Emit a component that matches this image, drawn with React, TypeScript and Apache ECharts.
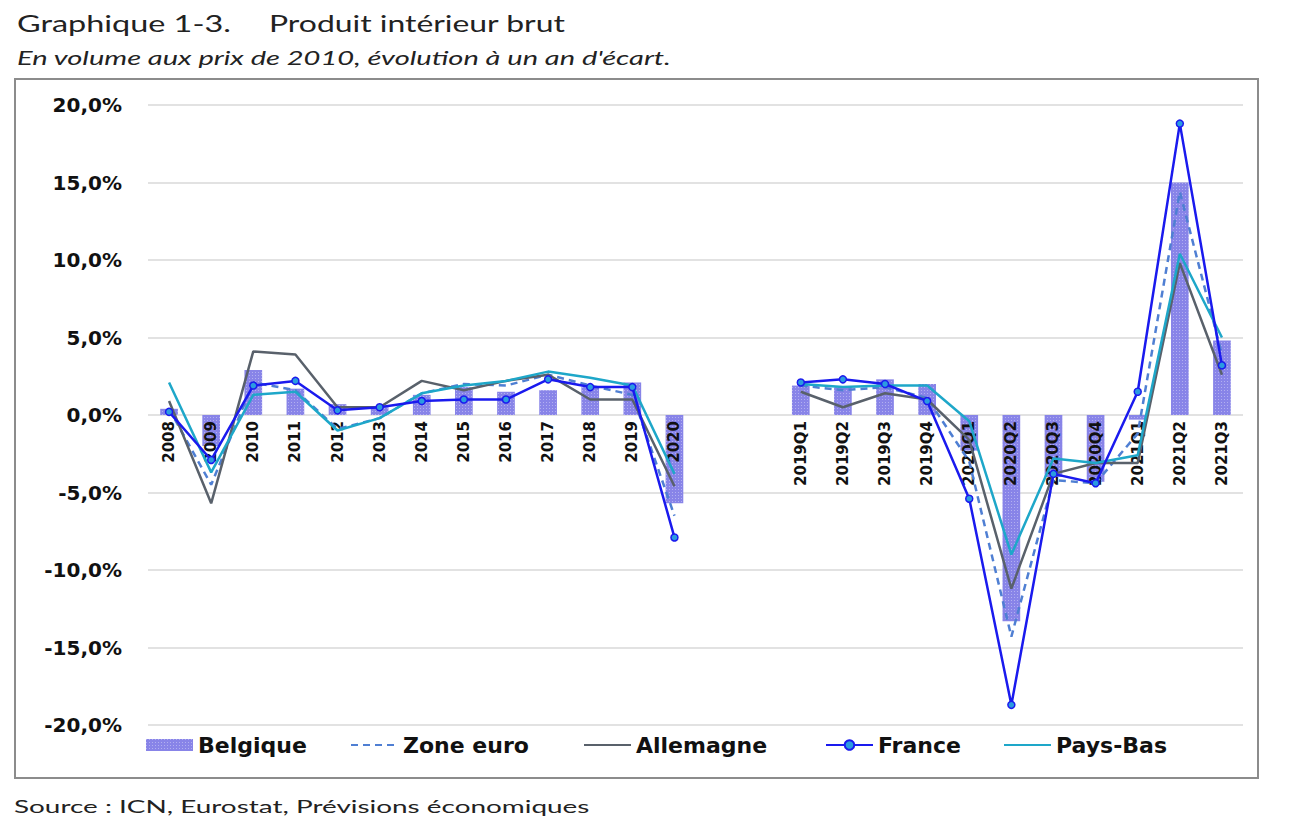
import React, { useEffect, useRef } from "react";
import * as echarts from "echarts";

const categories = [
  "2008", "2009", "2010", "2011", "2012", "2013", "2014", "2015", "2016", "2017", "2018", "2019", "2020",
  "", " ",
  "2019Q1", "2019Q2", "2019Q3", "2019Q4", "2020Q1", "2020Q2", "2020Q3", "2020Q4", "2021Q1", "2021Q2", "2021Q3",
];

const belgique = [
  0.4, -2.0, 2.9, 1.7, 0.7, 0.5, 1.3, 1.8, 1.5, 1.6, 1.8, 2.1, -5.7,
  null, null,
  1.9, 1.8, 2.3, 2.0, -2.3, -13.3, -4.0, -4.3, -0.3, 15.0, 4.8,
];
const zoneEuro = [
  0.4, -4.5, 2.1, 1.6, -0.9, -0.2, 1.4, 2.0, 1.9, 2.6, 1.9, 1.3, -6.5,
  null, null,
  1.9, 1.6, 1.8, 1.1, -3.0, -14.3, -4.2, -4.4, -1.2, 14.4, 3.9,
];
const allemagne = [
  0.9, -5.7, 4.1, 3.9, 0.5, 0.5, 2.2, 1.6, 2.2, 2.6, 1.0, 1.0, -4.6,
  null, null,
  1.5, 0.5, 1.4, 1.0, -1.6, -11.2, -3.8, -3.1, -3.1, 9.8, 2.6,
];
const france = [
  0.2, -2.9, 1.9, 2.2, 0.3, 0.5, 0.9, 1.0, 1.0, 2.3, 1.8, 1.8, -7.9,
  null, null,
  2.1, 2.3, 2.0, 0.9, -5.4, -18.7, -3.8, -4.4, 1.5, 18.8, 3.2,
];
const paysBas = [
  2.1, -3.7, 1.3, 1.5, -1.0, -0.2, 1.4, 1.9, 2.2, 2.8, 2.4, 1.9, -3.8,
  null, null,
  2.0, 1.8, 1.9, 1.9, -0.4, -9.0, -2.8, -3.1, -2.6, 10.4, 5.0,
];

const yTicks = { min: -20, max: 20, interval: 5 };
const legendNames = ["Belgique", "Zone euro", "Allemagne", "France", "Pays-Bas"];

export default function App() {
  const ref = useRef<HTMLDivElement>(null);
  useEffect(() => {
    document.body.style.margin = "0";
    const chart = echarts.init(ref.current!, null, { renderer: "svg" });
    const wide = "'DejaVu Sans', sans-serif";
    const hidden = { color: "rgba(0,0,0,0)", borderWidth: 0 };
    const legendLefts = [146, 350, 583, 825, 1003];
    const legendItems: any[] = [
      { name: legendNames[0], icon: "rect" },
      { name: legendNames[1], itemStyle: hidden },
      { name: legendNames[2], itemStyle: hidden },
      { name: legendNames[3] },
      { name: legendNames[4], itemStyle: hidden },
    ];
    chart.setOption({
      animation: false,
      backgroundColor: "#ffffff",
      grid: { left: 148, right: 68, top: 105, bottom: 92 },
      graphic: [
        {
          type: "rect",
          shape: { x: 15, y: 79, width: 1243, height: 699 },
          style: { fill: "none", stroke: "#8c8c8c", lineWidth: 2 },
          z: -1,
        },
        {
          type: "text",
          x: 17,
          y: 11,
          scaleX: 1.35,
          style: { text: "Graphique 1-3.", font: "24px Lato, sans-serif", fill: "#222" },
        },
        {
          type: "text",
          x: 269,
          y: 11,
          scaleX: 1.33,
          style: { text: "Produit intérieur brut", font: "24px Lato, sans-serif", fill: "#222" },
        },
        {
          type: "text",
          x: 17,
          y: 48,
          scaleX: 1.53,
          style: {
            text: "En volume aux prix de 2010, évolution à un an d'écart.",
            font: "italic 19px Lato, sans-serif",
            fill: "#222",
          },
        },
        {
          type: "text",
          x: 14,
          y: 797,
          scaleX: 1.55,
          style: {
            text: "Source : ICN, Eurostat, Prévisions économiques",
            font: "18px Lato, sans-serif",
            fill: "#222",
          },
        },
      ],
      legend: legendItems.map((item, i) => ({
        left: legendLefts[i],
        top: 734,
        padding: 0,
        itemWidth: 47,
        itemHeight: 12,
        textStyle: { fontFamily: wide, fontWeight: "bold", fontSize: 22, color: "#111" },
        data: [item],
      })),
      xAxis: {
        type: "category",
        data: categories,
        boundaryGap: true,
        offset: -310,
        z: 2,
        axisLine: { show: false, onZero: false },
        axisTick: { show: false },
        axisLabel: {
          interval: 0,
          rotate: 90,
          margin: 6,
          fontFamily: wide,
          fontWeight: "bold",
          fontSize: 15,
          color: "#111",
        },
      },
      yAxis: {
        type: "value",
        min: yTicks.min,
        max: yTicks.max,
        interval: yTicks.interval,
        axisLine: { show: false },
        axisTick: { show: false },
        splitLine: { lineStyle: { color: "#d9d9d9", width: 1.5 } },
        axisLabel: {
          margin: 26,
          fontFamily: wide,
          fontWeight: "bold",
          fontSize: 20,
          color: "#111",
          formatter: (v: number) => v.toFixed(1).replace(".", ",") + "%",
        },
      },
      series: [
        {
          name: "Belgique",
          type: "bar",
          data: belgique,
          barWidth: "42%",
          itemStyle: {
            color: "#8884e8",
            decal: {
              symbol: "rect",
              symbolSize: 1,
              dashArrayX: [1, 2],
              dashArrayY: [1, 2],
              rotation: 0,
              color: "rgba(255,255,255,0.35)",
            },
          },
          z: 1,
        },
        {
          name: "Zone euro",
          type: "line",
          data: zoneEuro,
          symbol: "none",
          connectNulls: false,
          lineStyle: { color: "#4f7fd3", width: 2.5, type: [7, 5] },
          itemStyle: { color: "#4f7fd3" },
          z: 3,
        },
        {
          name: "Allemagne",
          type: "line",
          data: allemagne,
          symbol: "none",
          connectNulls: false,
          lineStyle: { color: "#59616b", width: 2.5 },
          itemStyle: { color: "#59616b" },
          z: 3,
        },
        {
          name: "France",
          type: "line",
          data: france,
          symbol: "circle",
          symbolSize: 7,
          showSymbol: true,
          connectNulls: false,
          lineStyle: { color: "#1a1aee", width: 2.5 },
          itemStyle: { color: "#2b9be0", borderColor: "#1a1aee", borderWidth: 1.5 },
          z: 4,
        },
        {
          name: "Pays-Bas",
          type: "line",
          data: paysBas,
          symbol: "none",
          connectNulls: false,
          lineStyle: { color: "#1ea7c9", width: 2.5 },
          itemStyle: { color: "#1ea7c9" },
          z: 3,
        },
      ],
    });
    return () => chart.dispose();
  }, []);
  return <div ref={ref} style={{ width: 1311, height: 817 }} />;
}
